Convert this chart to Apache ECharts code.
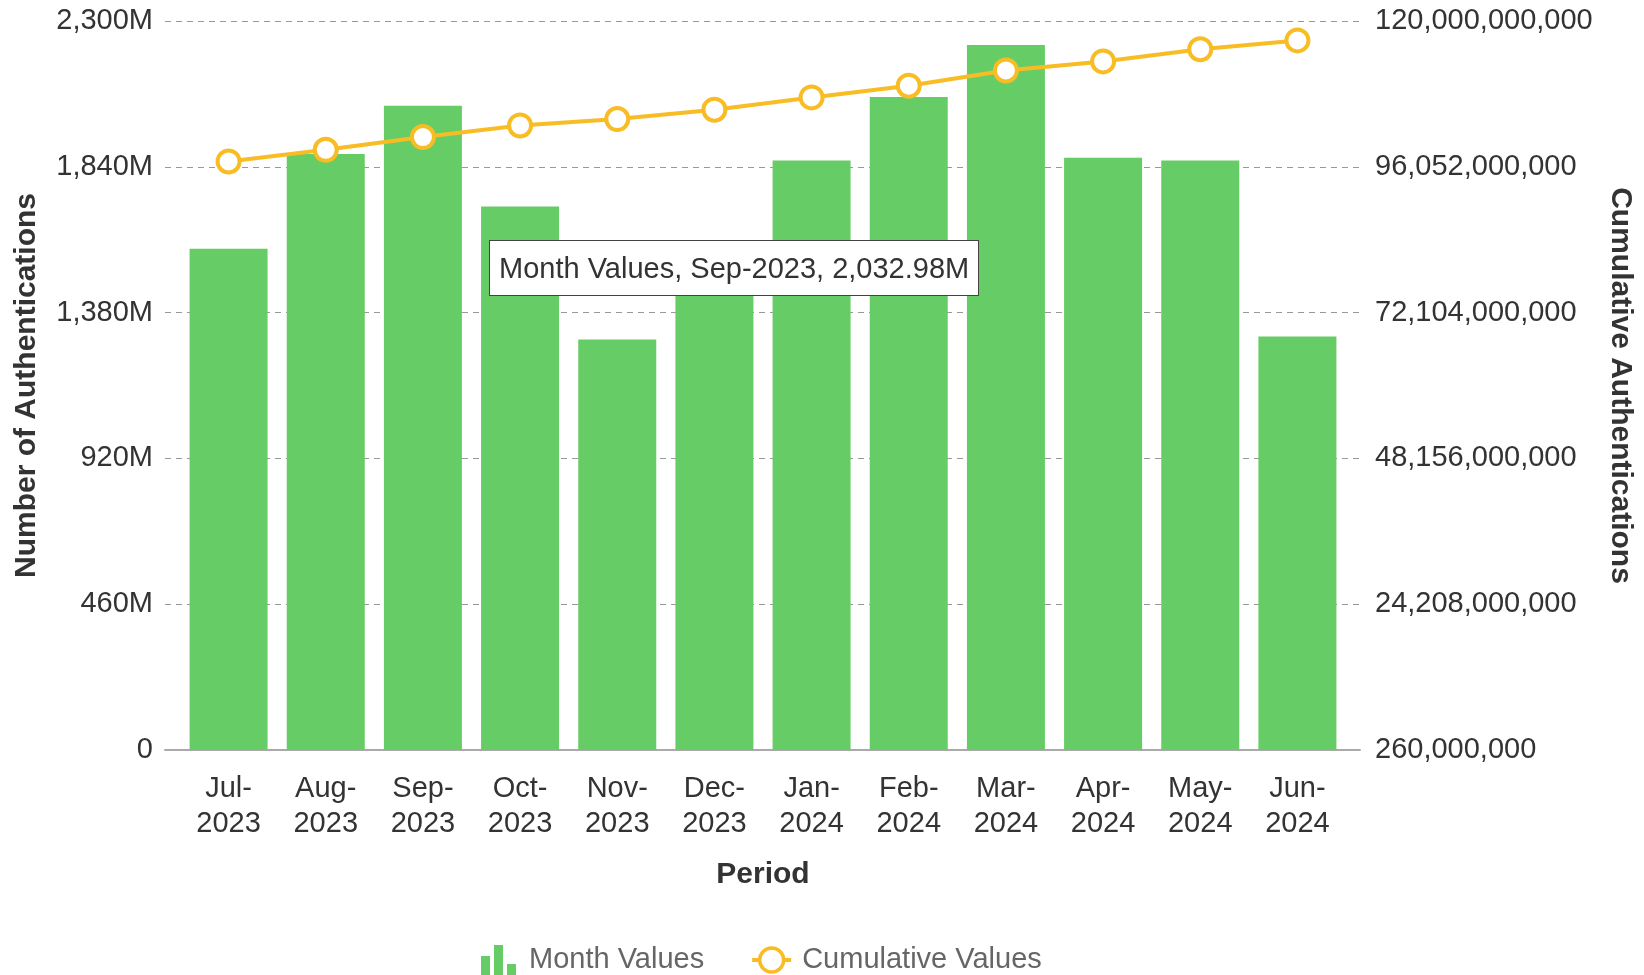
<!DOCTYPE html>
<html lang="en">
<head>
<meta charset="UTF-8">
<title>Authentications by Period</title>
<script src="https://cdn.jsdelivr.net/npm/echarts@6/dist/echarts.min.js"></script>
<style>
  body { margin: 0; padding: 0; background: #fff; }
  #main { width: 1644px; height: 975px; }
</style>
</head>
<body>
<div id="main"></div>
<script>
var FONT = "'Liberation Sans', Arial, sans-serif";

// categories
var periods = ['Jul-2023', 'Aug-2023', 'Sep-2023', 'Oct-2023', 'Nov-2023', 'Dec-2023',
               'Jan-2024', 'Feb-2024', 'Mar-2024', 'Apr-2024', 'May-2024', 'Jun-2024'];
// monthly authentications, in millions
var monthValues = [1581.3, 1880.2, 2032.98, 1714.8, 1295.0, 1520.0,
                   1860.0, 2060.0, 2224.0, 1868.5, 1860.0, 1304.8];
// cumulative authentications
var cumulativeValues = [96930000000, 98850000000, 100940000000, 102840000000, 103900000000, 105430000000,
                        107450000000, 109370000000, 111880000000, 113360000000, 115370000000, 116810000000];
// axis ranges
var leftAxis = { min: 0, max: 2300, interval: 460 };
var rightAxis = { min: 260000000, max: 120000000000, interval: 23948000000 };

var chart = echarts.init(document.getElementById('main'));

var option = {
  animation: false,
  textStyle: { fontFamily: FONT },
  grid: [
    { left: 180, right: 298, top: 21, bottom: 225, outerBoundsMode: 'none' },
    // wider background grid: gridlines run a little past the bars
    { left: 165, right: 284, top: 21, bottom: 225, outerBoundsMode: 'none' }
  ],
  tooltip: {
    trigger: 'item',
    triggerOn: 'none',
    alwaysShowContent: true,
    transitionDuration: 0,
    position: [489, 240],
    backgroundColor: '#fff',
    borderColor: '#444',
    borderWidth: 1.5,
    padding: [10, 9],
    textStyle: { fontSize: 29, color: '#333', fontFamily: FONT, lineHeight: 34 },
    extraCssText: 'border-radius:0;box-shadow:none;',
    formatter: function (p) {
      var v = p.value.toLocaleString('en-US', { minimumFractionDigits: 2, maximumFractionDigits: 2 });
      return p.seriesName + ', ' + p.name + ', ' + v + 'M';
    }
  },
  legend: {
    left: 476,
    top: 940,
    itemWidth: 39,
    itemHeight: 30,
    itemGap: 46,
    textStyle: { fontSize: 29, color: '#666', fontFamily: FONT, padding: [0, 0, 0, 6] },
    data: [
      { name: 'Month Values', icon: 'path://M0,11h9v19h-9z M13,0h9v30h-9z M26,19h9v11h-9z' },
      {
        name: 'Cumulative Values',
        lineStyle: { width: 4, color: '#F8BC24' },
        itemStyle: { color: '#fff', borderColor: '#F8BC24', borderWidth: 3.5 }
      }
    ]
  },
  xAxis: [
    {
      gridIndex: 0,
      type: 'category',
      data: periods,
      name: 'Period',
      nameLocation: 'middle',
      nameGap: 110,
      nameMoveOverlap: false,
      nameTextStyle: { fontSize: 30, fontWeight: 'bold', color: '#333', fontFamily: FONT },
      axisLine: { show: false },
      axisTick: { show: false },
      axisLabel: {
        margin: 21,
        fontSize: 29,
        lineHeight: 35,
        color: '#333',
        fontFamily: FONT,
        interval: 0,
        formatter: function (v) { return v.replace('-', '-\n'); }
      }
    },
    {
      gridIndex: 1,
      type: 'value',
      min: 0,
      max: 1,
      axisLine: { show: true, lineStyle: { color: '#aaa', width: 2 } },
      axisTick: { show: false },
      axisLabel: { show: false },
      splitLine: { show: false }
    }
  ],
  yAxis: [
    {
      gridIndex: 0,
      type: 'value',
      min: leftAxis.min,
      max: leftAxis.max,
      interval: leftAxis.interval,
      name: 'Number of Authentications',
      nameLocation: 'middle',
      nameGap: 138,
      nameMoveOverlap: false,
      nameTextStyle: { fontSize: 30, fontWeight: 'bold', color: '#333', fontFamily: FONT },
      axisLine: { show: false },
      axisTick: { show: false },
      splitLine: { show: false },
      axisLabel: {
        margin: 27,
        fontSize: 29,
        color: '#333',
        fontFamily: FONT,
        formatter: function (v) { return v === 0 ? '0' : v.toLocaleString('en-US') + 'M'; }
      }
    },
    {
      gridIndex: 0,
      type: 'value',
      position: 'right',
      min: rightAxis.min,
      max: rightAxis.max,
      interval: rightAxis.interval,
      name: 'Cumulative Authentications',
      nameLocation: 'middle',
      nameRotate: -90,
      nameGap: 259,
      nameMoveOverlap: false,
      nameTextStyle: { fontSize: 30, fontWeight: 'bold', color: '#333', fontFamily: FONT },
      axisLine: { show: false },
      axisTick: { show: false },
      splitLine: { show: false },
      axisLabel: {
        margin: 29,
        fontSize: 29,
        color: '#333',
        fontFamily: FONT,
        formatter: function (v) { return v.toLocaleString('en-US'); }
      }
    },
    {
      gridIndex: 1,
      type: 'value',
      min: leftAxis.min,
      max: leftAxis.max,
      interval: leftAxis.interval,
      axisLine: { show: false },
      axisTick: { show: false },
      axisLabel: { show: false },
      splitLine: { show: true, lineStyle: { color: '#999', width: 1, type: [6, 5] } }
    }
  ],
  series: [
    {
      name: 'Month Values',
      type: 'bar',
      xAxisIndex: 0,
      yAxisIndex: 0,
      data: monthValues,
      barWidth: 78,
      itemStyle: { color: '#66CC66' }
    },
    {
      name: 'Cumulative Values',
      type: 'line',
      xAxisIndex: 0,
      yAxisIndex: 1,
      data: cumulativeValues,
      symbol: 'circle',
      symbolSize: 22,
      lineStyle: { color: '#F8BC24', width: 4 },
      itemStyle: { color: '#fff', borderColor: '#F8BC24', borderWidth: 4 },
      z: 3
    }
  ]
};

chart.setOption(option);
chart.dispatchAction({ type: 'showTip', seriesIndex: 0, dataIndex: 2 });
</script>
</body>
</html>
